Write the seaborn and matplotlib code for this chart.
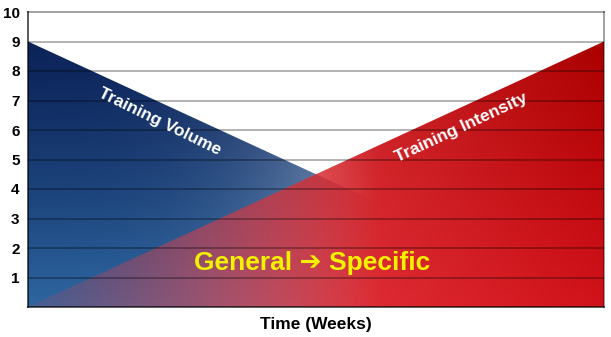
import numpy as np
import pandas as pd
import matplotlib
matplotlib.use("Agg")
import matplotlib.pyplot as plt
from matplotlib.patches import Polygon
import seaborn as sns

# ---- data ----
time = [0.0, 1.0]            # normalised time (weeks)
volume = [9.0, 0.0]          # training volume
intensity = [0.0, 9.0]       # training intensity
y_ticks = [1, 2, 3, 4, 5, 6, 7, 8, 9, 10]
volume_label = "Training Volume"
intensity_label = "Training Intensity"
center_label = "General \u2794 Specific"
x_label = "Time (Weeks)"

sns.set_theme(style="white")
plt.rcParams["font.family"] = ["Liberation Sans", "DejaVu Sans"]
plt.rcParams["font.weight"] = "bold"

fig = plt.figure(figsize=(6.11, 3.37), dpi=100)
ax = fig.add_axes([28 / 611, 1 - 307 / 337, 576 / 611, 295 / 337])
ax.set_xlim(0, 1)
ax.set_ylim(0, 10)

df = pd.DataFrame({"time": time, "volume": volume, "intensity": intensity})

# gradient grids
nx, ny = 400, 400
gx = np.linspace(0, 1, nx)
gy = np.linspace(0, 10, ny)
X, Y = np.meshgrid(gx, gy)

# blue gradient (training volume)
u = X
v = np.clip((9 - Y) / 9, 0, 1)
dark = np.array([12, 36, 90], float)
mid = np.array([46, 102, 160], float)
extra = np.array([520, 440, 330], float)
blue = dark[None, None, :] + (mid - dark)[None, None, :] * (v ** 1.3)[..., None] + extra[None, None, :] * (u ** 3)[..., None]
blue = np.clip(blue, 0, 255) / 255
blue_rgba = np.dstack([blue, np.ones_like(X)])

# red gradient (training intensity)
t = np.clip((X - 0.3) / 0.7, 0, 1)
light_r = np.array([230, 62, 70], float)
deep_r = np.array([210, 18, 26], float)
red = light_r[None, None, :] + (deep_r - light_r)[None, None, :] * t[..., None]
red = red - np.array([40, 18, 26], float)[None, None, :] * (np.clip(Y / 9, 0, 1) * X)[..., None]
red = np.clip(red, 0, 255) / 255
alpha = np.clip(0.12 + 1.45 * X, 0, 1)
red_rgba = np.dstack([red, alpha])

# polygons from data
blue_poly = Polygon([(time[0], 0)] + list(zip(time, volume)) + [(time[-1], 0)],
                    closed=True, transform=ax.transData, facecolor="none", edgecolor="none")
red_poly = Polygon([(time[0], 0)] + list(zip(time, intensity)) + [(time[-1], 0)],
                   closed=True, transform=ax.transData, facecolor="none", edgecolor="none")
ax.add_patch(blue_poly)
ax.add_patch(red_poly)

im_b = ax.imshow(blue_rgba, extent=[0, 1, 0, 10], origin="lower", aspect="auto",
                 interpolation="bilinear", zorder=1)
im_b.set_clip_path(blue_poly)
im_r = ax.imshow(red_rgba, extent=[0, 1, 0, 10], origin="lower", aspect="auto",
                 interpolation="bilinear", zorder=2)
im_r.set_clip_path(red_poly)

sns.lineplot(data=df, x="time", y="volume", ax=ax, color="#0d2558", linewidth=0, zorder=3)
sns.lineplot(data=df, x="time", y="intensity", ax=ax, color="#a80000", linewidth=0, zorder=3)
ax.set_xlim(0, 1)
ax.set_ylim(0, 10)

# grid lines on top
for yv in y_ticks[:-1]:
    ax.axhline(yv, color="black", alpha=0.38, linewidth=1.1, zorder=4)

ax.set_yticks(y_ticks)
ax.set_yticklabels([str(k) for k in y_ticks], fontsize=11, fontweight="bold", color="black")
ax.set_xticks([])
ax.tick_params(axis="y", length=0, pad=6)
ax.set_xlabel(x_label, fontsize=12.5, fontweight="bold", color="black", labelpad=7)
ax.set_ylabel("")

for side in ["left", "bottom"]:
    ax.spines[side].set_color((0, 0, 0, 0.7))
    ax.spines[side].set_linewidth(1.3)
for side in ["top", "right"]:
    ax.spines[side].set_color((0, 0, 0, 0.4))
    ax.spines[side].set_linewidth(1.3)
for s in ax.spines.values():
    s.set_zorder(5)

ax.text(0.229, 6.27, volume_label, color="white", fontsize=12.5, fontweight="bold",
        rotation=-26, ha="center", va="center", zorder=6)
ax.text(0.753, 6.07, intensity_label, color="white", fontsize=12.5, fontweight="bold",
        rotation=25, ha="center", va="center", zorder=6)
ax.text(0.493, 1.49, center_label, color="#f2f200", fontsize=19, fontweight="bold",
        ha="center", va="center", zorder=6, family=["Liberation Sans", "DejaVu Sans"])

fig.savefig("out.png", dpi=100)
